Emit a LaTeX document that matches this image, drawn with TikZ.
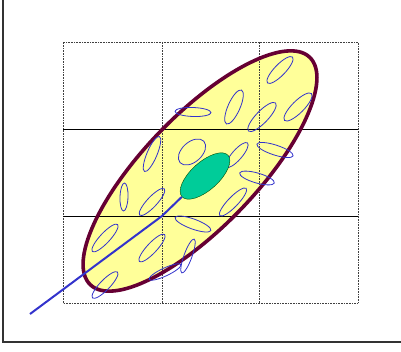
\documentclass[tikz,border=0pt]{standalone}
\usepackage{tikz}
\usetikzlibrary{shapes.geometric}
\definecolor{rimred}{HTML}{660033}
\definecolor{paleyellow}{HTML}{FFFF99}
\definecolor{coregreen}{HTML}{00CC99}
\definecolor{cellblue}{HTML}{3333CC}

\begin{document}
\begin{tikzpicture}[
  x=1pt, y=1pt,
  cell/.style={draw=cellblue, line width=0.8pt},
  gridrule/.style={black!75, line width=0.6pt},
]
  \useasboundingbox (0,0) rectangle (401,351);
  % outer frame (left and bottom only)
  \draw[black!80, line width=1.3pt] (3,351) -- (3,9) -- (401,9);

  % yellow body
  \fill[paleyellow, rotate around={46:(200,180)}]
    (200,180) ellipse [x radius=158, y radius=56];

  % grid
  \draw[gridrule, densely dotted] (63,48) rectangle (358,309);
  \foreach \x in {162, 259} {
    \draw[gridrule, densely dotted] (\x,48) -- (\x,309);
  }
  \foreach \y in {135, 222} {
    \draw[black, line width=0.9pt] (63,\y) -- (358,\y);
  }

  % rim of the body
  \draw[rimred, line width=3.6pt, rotate around={46:(200,180)}]
    (200,180) ellipse [x radius=158, y radius=56];

  % small cells: centre / radii / angle
  \foreach \cx/\cy/\ra/\rb/\ang in {
      280/281/18/5.5/46, 234/244/18.5/6/66, 262/234/19.5/6/46,
      298/244/19/6/45, 193/239/18/4.5/-2, 275/201/19/5/-18,
      192/199/16/10/42, 237/196/16/5/49, 152/197/19/5/67,
      257/173/18/5/-16, 194/160/9/6/30, 124/154/14/4/88,
      152/149/18/5/47, 233/149/19/5/46, 193/127/19/5/-20,
      105/113/18.5/5/47, 152/103/18.5/5/47, 188/95/18/4/70,
      165/79/17.5/4/25, 105/66/18/5/46} {
    \draw[cell, rotate around={\ang:(\cx,\cy)}]
      (\cx,\cy) ellipse [x radius=\ra, y radius=\rb];
  }

  % green core
  \node[ellipse, fill=coregreen, draw=green!30!black, line width=0.4pt,
        rotate=42, minimum width=62pt, minimum height=28pt, inner sep=0pt]
    (core) at (205,175) {};

  % tail
  \coordinate (tail) at (30,37);
  \coordinate (knee) at (162,135);
  \draw[cellblue, line width=2pt, line join=round]
    (tail) -- (knee) -- (core.west);
\end{tikzpicture}
\end{document}
